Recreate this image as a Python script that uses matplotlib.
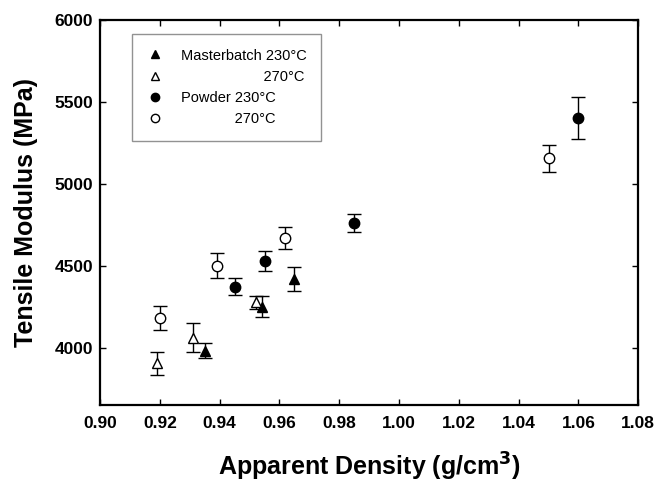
import matplotlib.pyplot as plt

plt.rcParams["font.family"] = ["Liberation Sans", "DejaVu Sans"]

# Masterbatch, processed at 230 and 270 C
mb230_density = [0.935, 0.954, 0.965]
mb230_modulus = [3980, 4250, 4420]
mb230_err = [45, 65, 73]

mb270_density = [0.919, 0.931, 0.952]
mb270_modulus = [3905, 4060, 4275]
mb270_err = [70, 90, 40]

# Powder, processed at 230 and 270 C
pw230_density = [0.945, 0.955, 0.985, 1.06]
pw230_modulus = [4372, 4530, 4760, 5400]
pw230_err = [50, 62, 55, 128]

pw270_density = [0.920, 0.939, 0.962, 1.05]
pw270_modulus = [4180, 4500, 4670, 5155]
pw270_err = [75, 75, 67, 82]

labels = [
    "Masterbatch 230°C",
    " " * 20 + "270°C",
    "Powder 230°C",
    " " * 13 + "270°C",
]
x_ticks = [0.90, 0.92, 0.94, 0.96, 0.98, 1.00, 1.02, 1.04, 1.06, 1.08]
y_ticks = [4000, 4500, 5000, 5500, 6000]

fig = plt.figure(figsize=(6.54, 4.82), dpi=100)
ax = fig.add_axes([0.153, 0.16, 0.823, 0.799])

series = [
    (mb230_density, mb230_modulus, mb230_err, "^", "black"),
    (mb270_density, mb270_modulus, mb270_err, "^", "white"),
    (pw230_density, pw230_modulus, pw230_err, "o", "black"),
    (pw270_density, pw270_modulus, pw270_err, "o", "white"),
]

handles = []
for x, y, err, marker, face in series:
    ax.errorbar(x, y, yerr=err, fmt="none", ecolor="black", elinewidth=1,
                capsize=5, capthick=1, zorder=2)
    h, = ax.plot(x, y, linestyle="none", marker=marker, markersize=7.5,
                 markerfacecolor=face, markeredgecolor="black",
                 markeredgewidth=1, zorder=3)
    handles.append(h)

leg = ax.legend(handles, labels, loc="upper left",
                bbox_to_anchor=(0.045, 0.982), fontsize=10.5,
                frameon=True, fancybox=False, handlelength=1.2,
                handletextpad=1.2, labelspacing=0.5, borderpad=1.0,
                markerscale=0.8)
leg.get_frame().set_edgecolor("#777777")
leg.get_frame().set_linewidth(1)

ax.set_xlim(0.90, 1.08)
ax.set_ylim(3650, 6000)
ax.set_xticks(x_ticks)
ax.set_xticklabels([f"{t:.2f}" for t in x_ticks])
ax.set_yticks(y_ticks)

for spine in ax.spines.values():
    spine.set_linewidth(1.6)

ax.tick_params(direction="in", length=4, width=1, top=True, right=True,
               labelsize=12.5)
ax.tick_params(axis="x", pad=8)
ax.tick_params(axis="y", pad=5)
for lbl in ax.get_xticklabels() + ax.get_yticklabels():
    lbl.set_fontweight("bold")

ax.set_xlabel("Apparent Density (g/cm$^\\mathbf{3}$)", fontsize=18,
              fontweight="bold", labelpad=14)
ax.set_ylabel("Tensile Modulus (MPa)", fontsize=18, fontweight="bold",
              labelpad=12)

fig.savefig("out.png", dpi=100)
